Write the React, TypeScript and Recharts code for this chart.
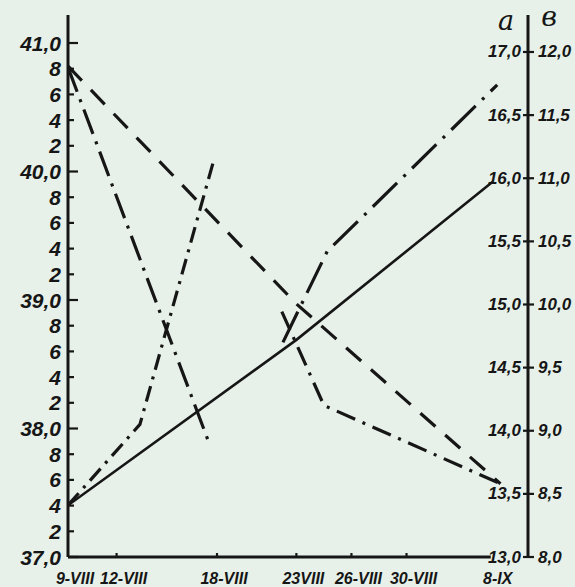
import React from 'react';
import { LineChart, Line, XAxis, YAxis, ReferenceLine } from 'recharts';

// Date axis (positions in days after 9-VIII as drawn; the last interval is compressed)
const dateLabels = ['9-VIII', '12-VIII', '18-VIII', '23VIII', '26-VIII', '30-VIII', '8-IX'];
const datePos = [0, 3, 9.2, 14.1, 17.5, 20.9, 26.1];

// Left axis: temperature
const tempTicks = [37, 37.2, 37.4, 37.6, 37.8, 38, 38.2, 38.4, 38.6, 38.8, 39, 39.2, 39.4, 39.6, 39.8, 40, 40.2, 40.4, 40.6, 40.8, 41];
const tempTickLabels = ['37,0', '2', '4', '6', '8', '38,0', '2', '4', '6', '8', '39,0', '2', '4', '6', '8', '40,0', '2', '4', '6', '8', '41,0'];

// Right axis: scales а and в
const scaleTicks = [13, 13.5, 14, 14.5, 15, 15.5, 16, 16.5, 17];
const scaleALabels = ['13,0', '13,5', '14,0', '14,5', '15,0', '15,5', '16,0', '16,5', '17,0'];
const scaleBLabels = ['8,0', '8,5', '9,0', '9,5', '10,0', '10,5', '11,0', '11,5', '12,0'];

// Series (left axis)
const dashedX = [0, 14.1, 26.7];
const dashedT = [40.82, 38.97, 37.57];
const steepDashDotX = [0, 8.64];
const steepDashDotT = [40.81, 37.91];
const lateFallX = [13.2, 15.8, 26.7];
const lateFallT = [38.91, 38.18, 37.57];

// Series (right axis, scale а)
const solidX = [0, 14.1, 26.2];
const solidA = [13.41, 14.72, 15.97];
const earlyRiseX = [0, 4.44, 8.95];
const earlyRiseA = [13.41, 14.05, 16.12];
const lateRiseX = [13.27, 16.0, 26.5];
const lateRiseA = [14.7, 15.42, 16.74];

const toPoints = (xs: number[], ys: number[]) => xs.map((x, i) => ({ x, y: ys[i] }));

const INK = '#161616';
const FONT = "'Liberation Sans Narrow', 'Liberation Sans', 'DejaVu Sans Condensed', sans-serif";

const LeftTick = (props: any) => {
  const { x, y, payload } = props;
  const i = tempTicks.indexOf(payload.value);
  const label = tempTickLabels[i] ?? '';
  const major = label.length > 1;
  return (
    <g>
      <line x1={x} x2={x + (major ? 10 : 6)} y1={y} y2={y} stroke={INK} strokeWidth={2.2} />
      <text x={x - 7} y={y} textAnchor="end" dominantBaseline="central" fontFamily={FONT} fontStyle="italic" fontWeight="bold" fontSize={21} fill={INK}>
        {label}
      </text>
    </g>
  );
};

const RightTick = (props: any) => {
  const { x, y, payload } = props;
  const i = scaleTicks.indexOf(payload.value);
  return (
    <g>
      <line x1={x - 5} x2={x + 6} y1={y} y2={y} stroke={INK} strokeWidth={2.2} />
      <text x={x - 7} y={y} textAnchor="end" dominantBaseline="central" fontFamily={FONT} fontStyle="italic" fontWeight="bold" fontSize={17} fill={INK}>
        {scaleALabels[i]}
      </text>
      <text x={x + 10} y={y} textAnchor="start" dominantBaseline="central" fontFamily={FONT} fontStyle="italic" fontWeight="bold" fontSize={17} fill={INK}>
        {scaleBLabels[i]}
      </text>
    </g>
  );
};

const DateTick = (props: any) => {
  const { x, y, payload } = props;
  const i = datePos.indexOf(payload.value);
  return (
    <g>
      {i > 0 && i < datePos.length - 1 ? (
        <line x1={x} x2={x} y1={y} y2={y - 4} stroke={INK} strokeWidth={2.2} />
      ) : null}
      <text x={x + 7} y={y + 21} textAnchor="middle" dominantBaseline="central" fontFamily={FONT} fontStyle="italic" fontWeight="bold" fontSize={16} fill={INK}>
        {dateLabels[i]}
      </text>
    </g>
  );
};

const AxisLetters = (props: any) => {
  const vb = props.viewBox || {};
  const x = vb.x ?? 528;
  const y = vb.y ?? 15;
  return (
    <g>
      <text x={x - 22} y={y + 5} textAnchor="middle" dominantBaseline="central" fontFamily="'DejaVu Serif', serif" fontStyle="italic" fontSize={27} fill={INK}>
        а
      </text>
      <text x={x + 21} y={y + 1} textAnchor="middle" dominantBaseline="central" fontFamily="'DejaVu Serif', serif" fontStyle="italic" fontSize={27} fill={INK}>
        в
      </text>
    </g>
  );
};

export default function App() {
  return (
    <div style={{ position: 'absolute', left: 0, top: 0, width: 575, height: 587, background: '#e7f1e9', overflow: 'hidden' }}>
      <LineChart width={575} height={587} margin={{ top: 15, right: 0, bottom: 0, left: 0 }}>
        <XAxis
          dataKey="x"
          type="number"
          domain={[0, 28.4]}
          ticks={datePos}
          interval={0}
          axisLine={false}
          tickLine={false}
          tickSize={0}
          tickMargin={0}
          height={30}
          tick={<DateTick />}
          allowDataOverflow
        />
        <YAxis
          yAxisId="left"
          orientation="left"
          type="number"
          domain={[37, 41.218]}
          ticks={tempTicks}
          interval={0}
          width={68}
          tickLine={false}
          tickSize={0}
          tickMargin={0}
          axisLine={{ stroke: INK, strokeWidth: 3 }}
          tick={<LeftTick />}
          allowDataOverflow
        />
        <YAxis
          yAxisId="right"
          orientation="right"
          type="number"
          domain={[13, 17.293]}
          ticks={scaleTicks}
          interval={0}
          width={47}
          tickLine={false}
          tickSize={0}
          tickMargin={0}
          axisLine={{ stroke: INK, strokeWidth: 3 }}
          tick={<RightTick />}
          label={<AxisLetters />}
          allowDataOverflow
        />
        <ReferenceLine
          yAxisId="left"
          segment={[{ x: 0, y: 37 }, { x: datePos[datePos.length - 1], y: 37 }]}
          stroke={INK}
          strokeWidth={3}
          ifOverflow="visible"
        />
        <Line data={toPoints(dashedX, dashedT)} dataKey="y" yAxisId="left" type="linear" stroke={INK} strokeWidth={3.2} strokeDasharray="20 13" dot={false} isAnimationActive={false} />
        <Line data={toPoints(steepDashDotX, steepDashDotT)} dataKey="y" yAxisId="left" type="linear" stroke={INK} strokeWidth={3.2} strokeDasharray="26 8 3 8" dot={false} isAnimationActive={false} />
        <Line data={toPoints(lateFallX, lateFallT)} dataKey="y" yAxisId="left" type="linear" stroke={INK} strokeWidth={3.2} strokeDasharray="20 8 3 8" dot={false} isAnimationActive={false} />
        <Line data={toPoints(solidX, solidA)} dataKey="y" yAxisId="right" type="linear" stroke={INK} strokeWidth={2.6} dot={false} isAnimationActive={false} />
        <Line data={toPoints(earlyRiseX, earlyRiseA)} dataKey="y" yAxisId="right" type="linear" stroke={INK} strokeWidth={3.2} strokeDasharray="16 7 3 7" dot={false} isAnimationActive={false} />
        <Line data={toPoints(lateRiseX, lateRiseA)} dataKey="y" yAxisId="right" type="linear" stroke={INK} strokeWidth={3.2} strokeDasharray="34 9 3 9" dot={false} isAnimationActive={false} />
      </LineChart>
    </div>
  );
}
